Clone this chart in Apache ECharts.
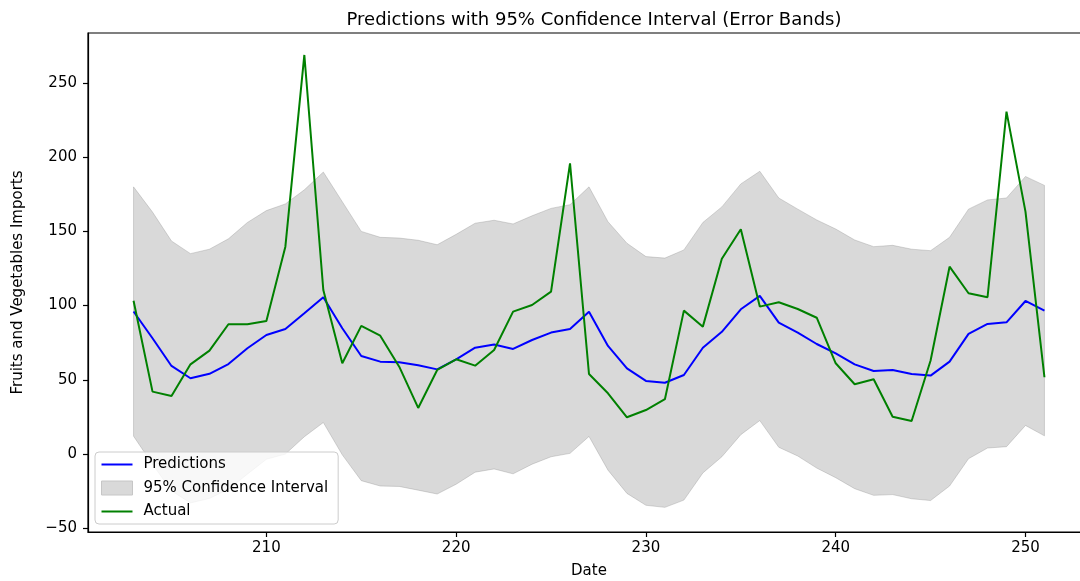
<!DOCTYPE html>
<html>
<head>
<meta charset="utf-8">
<script src="https://cdn.jsdelivr.net/npm/echarts@6/dist/echarts.min.js"></script>
<style>
  html, body { margin: 0; padding: 0; background: #fff; }
  #chart { width: 1080px; height: 581px; }
</style>
</head>
<body>
<div id="chart"></div>
<script>
// data
const dates = [203, 204, 205, 206, 207, 208, 209, 210, 211, 212, 213, 214, 215, 216, 217, 218, 219,
  220, 221, 222, 223, 224, 225, 226, 227, 228, 229, 230, 231, 232, 233, 234, 235, 236, 237, 238,
  239, 240, 241, 242, 243, 244, 245, 246, 247, 248, 249, 250, 251]
const predictions = [96, 78, 59.3, 51, 54, 60.6, 71.2, 80.2, 84.2, 94.8, 105.6, 84.7, 66, 62.2, 61.8,
  59.8, 57, 63.8, 71.6, 73.7, 70.8, 76.8, 81.8, 84.2, 95.9, 72.8, 57.7, 49.2, 48, 53.2, 71.6, 82.3,
  97.5, 106.5, 88.5, 81.8, 74.1, 67.8, 60.4, 55.9, 56.6, 53.9, 52.8, 62.2, 80.9, 87.6, 88.7, 103.1, 96.6]
const upperBound = [180, 163, 143.5, 135, 138, 145, 156, 164, 168.5, 178, 190, 170, 150, 146, 145.5,
  144, 141, 148, 155.5, 157.5, 155, 160.5, 165.5, 168, 180, 156.5, 142, 133, 132, 137.5, 156, 166.5,
  182, 190.5, 172.5, 165, 157.7, 151.6, 144.2, 139.7, 140.6, 138, 137, 146, 165, 171.2, 172.5, 187, 181]
const lowerBound = [12, -7, -24.9, -33, -30, -23.8, -13.6, -3.6, -0.1, 11.6, 21.2, -0.6, -18, -21.6,
  -21.9, -24.4, -27, -20.4, -12.3, -10.1, -13.4, -6.9, -1.9, 0.4, 11.8, -10.9, -26.6, -34.6, -36,
  -31.1, -12.8, -1.9, 13, 22.5, 4.5, -1.4, -9.5, -16, -23.4, -27.9, -27.4, -30.2, -31.4, -21.6, -3.2,
  4, 4.9, 19.2, 12.2]
const actual = [103.3, 42, 39.1, 60.4, 69.6, 87.4, 87.4, 89.6, 139.7, 268.9, 110.5, 61.1, 86.3, 79.7,
  58.8, 31, 56.6, 63.8, 59.5, 70.1, 95.9, 100.4, 109.4, 195.9, 53.9, 40.9, 24.7, 29.6, 36.9, 96.6,
  85.8, 131.5, 151.4, 99.3, 102.2, 97.7, 91.8, 61.1, 47, 50.3, 25.1, 22.2, 63, 126.2, 108.3, 105.6,
  230.7, 163.3, 51.7]
const xTicks = [210, 220, 230, 240, 250]
const yTicks = [-50, 0, 50, 100, 150, 200, 250]

const FONT = 'DejaVu Sans'
const fmt = v => String(v).replace('-', '\u2212')
const LINE_ICON = 'path://M0,0H31V2H0Z'

const chart = echarts.init(document.getElementById('chart'), null, { renderer: 'canvas' })

chart.setOption({
  animation: false,
  backgroundColor: '#fff',
  textStyle: { fontFamily: FONT, color: '#000' },
  title: {
    text: 'Predictions with 95% Confidence Interval (Error Bands)',
    left: 589,
    top: 6,
    textAlign: 'center',
    textStyle: { fontFamily: FONT, fontSize: 18, fontWeight: 'normal', color: '#000' }
  },
  grid: {
    left: 88, top: 33, width: 1002, height: 499,
    show: true, borderColor: '#000', borderWidth: 1.2,
    containLabel: false,
    outerBoundsMode: 'none'
  },
  legend: {
    orient: 'vertical',
    left: 95,
    top: 452,
    padding: [5, 10, 5, 6],
    itemWidth: 31,
    itemHeight: 14,
    itemGap: 8.5,
    borderColor: '#cccccc',
    borderWidth: 1,
    borderRadius: 4,
    backgroundColor: 'rgba(255,255,255,0.8)',
    textStyle: { fontFamily: FONT, fontSize: 15, color: '#000', lineHeight: 14, padding: [0, 0, 0, 6] },
    data: [
      { name: 'Predictions', icon: LINE_ICON, itemStyle: { color: '#0000ff' } },
      { name: '95% Confidence Interval', icon: 'rect',
        itemStyle: { color: '#d9d9d9', borderColor: '#c6c6c6', borderWidth: 1 } },
      { name: 'Actual', icon: LINE_ICON, itemStyle: { color: '#008000' } }
    ]
  },
  xAxis: {
    type: 'value',
    min: 200.6,
    max: 253.4,
    name: 'Date',
    nameLocation: 'middle',
    nameGap: 32,
    nameTextStyle: { fontFamily: FONT, fontSize: 15, color: '#000' },
    splitLine: { show: false },
    axisLine: { show: true, onZero: false, lineStyle: { color: '#000', width: 1.2 } },
    axisTick: { show: true, length: 5, customValues: xTicks, lineStyle: { color: '#000', width: 1.2 } },
    axisLabel: { customValues: xTicks, margin: 9, fontFamily: FONT, fontSize: 15, color: '#000', formatter: fmt }
  },
  yAxis: {
    type: 'value',
    min: -52.6,
    max: 283.7,
    name: 'Fruits and Vegetables Imports',
    nameLocation: 'middle',
    nameGap: 62,
    nameTextStyle: { fontFamily: FONT, fontSize: 15, color: '#000' },
    splitLine: { show: false },
    axisLine: { show: true, onZero: false, lineStyle: { color: '#000', width: 1.2 } },
    axisTick: { show: true, length: 5, customValues: yTicks, lineStyle: { color: '#000', width: 1.2 } },
    axisLabel: { customValues: yTicks, margin: 11, fontFamily: FONT, fontSize: 15, color: '#000', formatter: fmt }
  },
  series: [
    {
      name: 'Predictions',
      type: 'line',
      data: dates.map((d, i) => [d, predictions[i]]),
      symbol: 'none',
      itemStyle: { color: '#0000ff' },
      lineStyle: { color: '#0000ff', width: 2 }
    },
    {
      name: '95% Confidence Interval',
      type: 'custom',
      data: dates.map((d, i) => [d, lowerBound[i], upperBound[i]]),
      encode: { x: 0, y: [1, 2] },
      itemStyle: { color: '#d9d9d9' },
      renderItem: function (params, api) {
        if (params.dataIndex !== 0) return
        const top = dates.map((d, i) => api.coord([d, upperBound[i]]))
        const bottom = dates.map((d, i) => api.coord([d, lowerBound[i]])).reverse()
        return {
          type: 'polygon',
          shape: { points: top.concat(bottom) },
          style: { fill: 'rgba(128,128,128,0.3)', stroke: 'rgba(128,128,128,0.3)', lineWidth: 1 }
        }
      }
    },
    {
      name: 'Actual',
      type: 'line',
      data: dates.map((d, i) => [d, actual[i]]),
      symbol: 'none',
      itemStyle: { color: '#008000' },
      lineStyle: { color: '#008000', width: 2 }
    }
  ]
})
</script>
</body>
</html>
